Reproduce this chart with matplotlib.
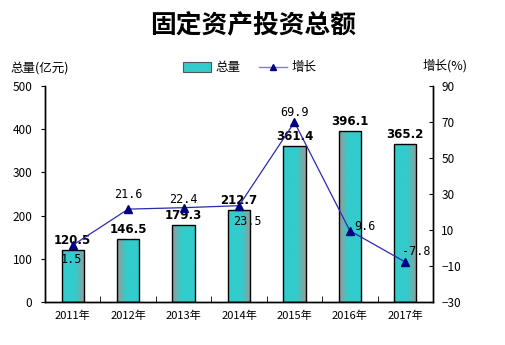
import matplotlib
matplotlib.use("Agg")
import matplotlib.pyplot as plt
import numpy as np
from matplotlib.lines import Line2D
from matplotlib.patches import Patch

plt.rcParams['font.family'] = ['Noto Sans CJK SC', 'DejaVu Sans']

years = ['2011年', '2012年', '2013年', '2014年', '2015年', '2016年', '2017年']
totals = [120.5, 146.5, 179.3, 212.7, 361.4, 396.1, 365.2]
growth = [1.5, 21.6, 22.4, 23.5, 69.9, 9.6, -7.8]
growth_labels = ['1.5', '21.6', '22.4', '23.5', '69.9', '9.6', '-7.8']

# label placement offsets (points) for growth labels
g_off = [(-1, -15), (0, 6), (0, 1), (6, -16), (0, 2), (11, -2), (8, 3)]
# gradient direction per bar (True: gray on right)
gray_right = [True, False, False, True, True, False, True]

fig = plt.figure(figsize=(5.06, 3.45), dpi=100)
ax = fig.add_axes([45/506, 1-302/345, (433-45)/506, (302-86)/345])
ax2 = ax.twinx()

x = np.arange(len(years))
bars = ax.bar(x, totals, width=0.4, color='none', edgecolor='black', linewidth=1.0, zorder=3)

cyan = np.array([0x33, 0xCC, 0xCC]) / 255
gray = np.array([0x99, 0x99, 0x99]) / 255
for b, gr in zip(bars, gray_right):
    t = np.linspace(0, 1, 64)
    w = np.clip((t - 0.6) / 0.4, 0, 1) if gr else np.clip((0.4 - t) / 0.4, 0, 1)
    cols = (1 - w)[:, None] * cyan + w[:, None] * gray
    img = cols[None, :, :]
    im = ax.imshow(img, extent=[b.get_x(), b.get_x() + b.get_width(), 0, b.get_height()],
                   aspect='auto', zorder=2, interpolation='bilinear')
    im.set_clip_path(b)

for xi, v in zip(x, totals):
    ax.annotate(f'{v:.1f}', (xi, v), xytext=(0, 2), textcoords='offset points',
                ha='center', va='bottom', fontsize=8.5, fontweight='bold',
                family='DejaVu Sans', color='black', zorder=6)

ax.set_xlim(-0.5, len(years) - 0.5)
ax.set_ylim(0, 500)
ax.set_yticks(range(0, 501, 100))
ax2.set_ylim(-30, 90)
ax2.set_yticks(range(-30, 91, 20))

ax2.plot(x, growth, color='#2B2BB0', linewidth=0.9, marker='^', markersize=6,
         markerfacecolor='#000080', markeredgecolor='#000080', zorder=5)
for xi, v, lab, off in zip(x, growth, growth_labels, g_off):
    ax2.annotate(lab, (xi, v), xytext=off, textcoords='offset points',
                 ha='center', va='bottom', fontsize=8.5, family='DejaVu Sans Mono',
                 color='black', zorder=6)

ax.set_xticks(x)
ax.set_xticklabels(years, fontsize=8)
ax.set_xticks(np.arange(-0.5, len(years), 1), minor=True)
ax.tick_params(axis='x', which='major', length=0, pad=6)
ax.tick_params(axis='x', which='minor', direction='in', length=4)
ax.tick_params(axis='y', direction='out', length=3, labelsize=8.5, pad=6, colors='black')
ax2.tick_params(axis='y', direction='in', length=3, labelsize=8.5, pad=6)

for a in (ax, ax2):
    a.spines['top'].set_visible(False)
    for s in ('left', 'right', 'bottom'):
        a.spines[s].set_linewidth(1.0)

fig.text(0.5, 1 - 25/345, '固定资产投资总额', ha='center', va='center',
         fontsize=18.5, fontweight='bold')
fig.text(10/506, 1 - 68/345, '总量(亿元)', ha='left', va='center', fontsize=9)
fig.text(468/506, 1 - 66/345, '增长(%)', ha='right', va='center', fontsize=9)

handles = [Patch(facecolor='#33CCCC', edgecolor='#555555', linewidth=0.8),
           Line2D([0], [0], color='#8080C8', linewidth=1, marker='^', markersize=5,
                  markerfacecolor='#000080', markeredgecolor='#000080')]
fig.legend(handles, ['总量', '增长'], loc='center', bbox_to_anchor=(250/506, 1 - 68/345),
           ncol=2, frameon=False, fontsize=9, handlelength=2.2, handleheight=0.8,
           columnspacing=1.5, handletextpad=0.4)

fig.savefig('out.png', dpi=100)
